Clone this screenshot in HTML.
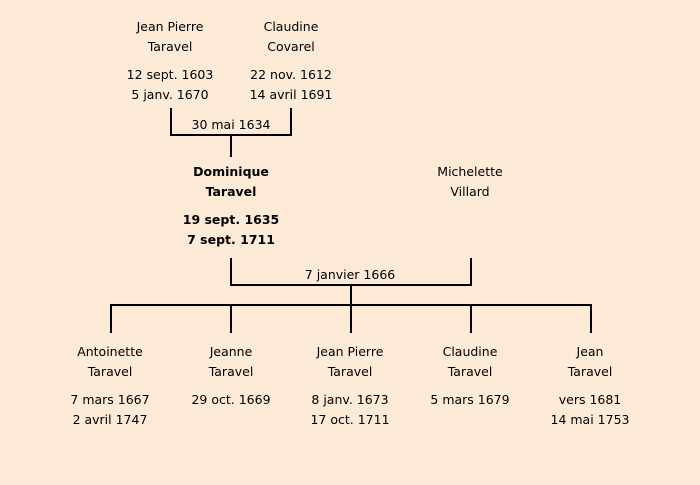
<!DOCTYPE html>
<html><head><meta charset="utf-8"><style>
body{margin:0;width:700px;height:485px;background:#fdebd7;position:relative;overflow:hidden;font-family:"DejaVu Sans","Liberation Sans",sans-serif;font-size:12.5px;color:#000}
.t{position:absolute;width:160px;margin-left:-80px;text-align:center;line-height:20px;white-space:nowrap}
.b{font-weight:bold}
svg{position:absolute;left:0;top:0}
</style></head><body>
<svg width="700" height="485"><g stroke="#000" stroke-width="2" fill="none">
<polyline points="171,108 171,135 291,135 291,108"/>
<line x1="231" y1="135" x2="231" y2="157"/>
<polyline points="231,258 231,285 471,285 471,258"/>
<line x1="351" y1="285" x2="351" y2="305"/>
<line x1="110" y1="305" x2="592" y2="305"/>
<line x1="111" y1="305" x2="111" y2="333"/>
<line x1="231" y1="305" x2="231" y2="333"/>
<line x1="351" y1="305" x2="351" y2="333"/>
<line x1="471" y1="305" x2="471" y2="333"/>
<line x1="591" y1="305" x2="591" y2="333"/>
</g></svg>
<div class="t" style="left:170px;top:17px">Jean Pierre<br>Taravel</div>
<div class="t" style="left:170px;top:65px">12 sept. 1603<br>5 janv. 1670</div>
<div class="t" style="left:291px;top:17px">Claudine<br>Covarel</div>
<div class="t" style="left:291px;top:65px">22 nov. 1612<br>14 avril 1691</div>
<div class="t" style="left:231px;top:115px">30 mai 1634</div>
<div class="t b" style="left:231px;top:162px">Dominique<br>Taravel</div>
<div class="t b" style="left:231px;top:210px">19 sept. 1635<br>7 sept. 1711</div>
<div class="t" style="left:470px;top:162px">Michelette<br>Villard</div>
<div class="t" style="left:350px;top:265px">7 janvier 1666</div>
<div class="t" style="left:110px;top:342px">Antoinette<br>Taravel</div>
<div class="t" style="left:110px;top:390px">7 mars 1667<br>2 avril 1747</div>
<div class="t" style="left:231px;top:342px">Jeanne<br>Taravel</div>
<div class="t" style="left:231px;top:390px">29 oct. 1669</div>
<div class="t" style="left:350px;top:342px">Jean Pierre<br>Taravel</div>
<div class="t" style="left:350px;top:390px">8 janv. 1673<br>17 oct. 1711</div>
<div class="t" style="left:470px;top:342px">Claudine<br>Taravel</div>
<div class="t" style="left:470px;top:390px">5 mars 1679</div>
<div class="t" style="left:590px;top:342px">Jean<br>Taravel</div>
<div class="t" style="left:590px;top:390px">vers 1681<br>14 mai 1753</div>
</body></html>
